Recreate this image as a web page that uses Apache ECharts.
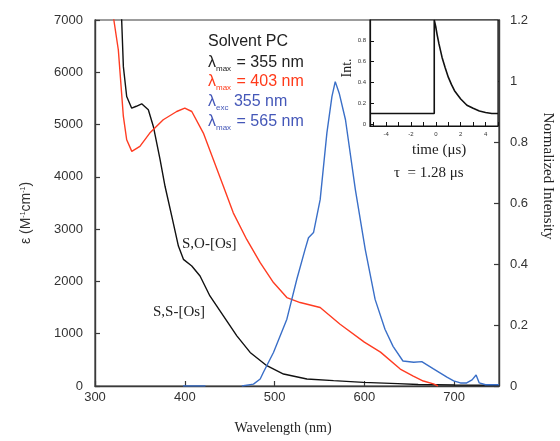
<!DOCTYPE html>
<html><head><meta charset="utf-8">
<script src="https://cdn.jsdelivr.net/npm/echarts@6/dist/echarts.min.js"></script>
<style>html,body{margin:0;padding:0;background:#fff}#c{width:560px;height:441px}</style>
</head><body><div id="c"></div>
<script>
// S,S-[Os] absorption (black): wavelength (nm), epsilon
const blackWl  = [329,329.7,331.6,335.3,340.9,346,352,359.4,365,372.5,378,385.5,392.9,398.5,407.8,417,428,443,458,472.8,491.4,510,536,565.7,599,637,660,700,750];
const blackEps = [7400,7000,6108,5536,5314,5350,5397,5282,4964,4329,3820,3248,2676,2422,2294,2103,1722,1341,959,642,388,229,134,102,70,45,30,20,15];
// S,O-[Os] absorption (red)
const redWl  = [317,321,326,331.6,335.3,341,350,361,376,391,400,407.8,420.7,431.9,443,454,469,484,498.8,513.7,528.5,550.8,573,600,618,640,654.5,665.7,677,682];
const redEps = [7500,7000,6426,5155,4710,4487,4583,4837,5092,5250,5314,5250,4837,4329,3820,3312,2803,2359,1978,1692,1596,1501,1182,839,648,324,191,95,40,0];
// Normalized emission (blue); null = gap in the trace
const blueWl  = [398,423,424,463.5,476.5,484,487.6,498.8,513.7,524.8,534,537.8,543.4,550.8,558.3,563.9,567.6,572,579,590,601,612,623,632,643,655,664,677,692,699.5,707,714,720,724.5,728,735,750];
const blueInt = [0,0,null,0,0.006,0.023,0.045,0.11,0.219,0.35,0.448,0.486,0.503,0.611,0.83,0.949,0.998,0.96,0.873,0.644,0.448,0.284,0.186,0.13,0.082,0.078,0.08,0.056,0.029,0.017,0.01,0.01,0.02,0.036,0.01,0.004,0.004];
// Inset decay: time (us), intensity
const decayT   = [-5.3,-4,-3,-2,-1,-0.13,-0.13,0,0.1,0.25,0.5,0.75,1,1.25,1.5,2,2.5,3,3.5,4,4.5,5];
const decayInt = [0.1,0.1,0.1,0.1,0.1,0.1,1.0,0.93,0.86,0.77,0.64,0.54,0.45,0.38,0.32,0.24,0.18,0.15,0.125,0.11,0.1,0.1];

const insetXLabels = [-4,-2,0,2,4];
const insetXTicks = [-5,-4,-3,-2,-1,0,1,2,3,4,5];
const insetYLabels = [0,0.2,0.4,0.6,0.8];

function pairs(xs, ys){ return xs.map((x,i)=>[x, ys[i] === null ? '-' : ys[i]]); }

const SANS = '"Liberation Sans", Arial, Helvetica, sans-serif';
const SERIF = '"Liberation Serif", "Times New Roman", serif';
const AX = '#3a3a3a';

function legendLine(top, sym, rest, color){
  return {type:'text', left:208, top:top, z:20, style:{
    text:'{l|λ}{s|'+sym+'}{l|'+rest+'}',
    rich:{
      l:{font:'16px '+SANS, fill:color, lineHeight:20, verticalAlign:'middle'},
      s:{font:'8px '+SANS, fill:color, lineHeight:8, verticalAlign:'bottom', padding:[0,1,0,0]}
    }}};
}

const chart = echarts.init(document.getElementById('c'), null, {renderer:'canvas'});
chart.setOption({
  animation:false,
  backgroundColor:'#fff',
  grid:[
    {left:95, top:20, width:404, height:366, show:true, borderColor:AX, borderWidth:1.2, backgroundColor:'transparent'},
    {left:370, top:20, width:128, height:106, show:true, borderColor:'#111', borderWidth:1.2, backgroundColor:'#fff', z:10}
  ],
  xAxis:[
    {gridIndex:0, type:'value', min:300, max:750, interval:100,
     axisLine:{onZero:false, lineStyle:{color:AX, width:1.4}}, splitLine:{show:false},
     axisTick:{inside:true, length:5, lineStyle:{color:AX, width:1.2}},
     axisLabel:{color:'#333', fontFamily:SANS, fontSize:13, margin:5, showMaxLabel:false, formatter:v=>String(v)}},
    {gridIndex:1, type:'value', min:-5.3, max:5, z:11,
     axisLine:{onZero:false, lineStyle:{color:'#111', width:1.2}}, splitLine:{show:false},
     axisTick:{inside:true, length:4, lineStyle:{color:'#111'}, customValues:insetXTicks},
     axisLabel:{color:'#333', fontFamily:SANS, fontSize:6, margin:5, customValues:insetXLabels}}
  ],
  yAxis:[
    {gridIndex:0, type:'value', min:0, max:7000, interval:1000, position:'left',
     axisLine:{show:true, onZero:false, lineStyle:{color:AX, width:1.4}}, splitLine:{show:false},
     axisTick:{show:true, inside:true, length:5, lineStyle:{color:AX, width:1.2}},
     axisLabel:{color:'#333', fontFamily:SANS, fontSize:13, margin:12, formatter:v=>String(v)}},
    {gridIndex:0, type:'value', min:0, max:1.2, interval:0.2, position:'right',
     axisLine:{show:true, onZero:false, lineStyle:{color:AX, width:1.4}}, splitLine:{show:false},
     axisTick:{show:true, inside:true, length:5, lineStyle:{color:AX, width:1.2}},
     axisLabel:{color:'#333', fontFamily:SANS, fontSize:13, margin:11}},
    {gridIndex:1, type:'value', min:-0.02, max:1.0, z:11,
     axisLine:{show:true, onZero:false, lineStyle:{color:'#111', width:1.2}}, splitLine:{show:false},
     axisTick:{show:true, inside:true, length:4, lineStyle:{color:'#111'}, customValues:insetYLabels},
     axisLabel:{color:'#333', fontFamily:SANS, fontSize:6, margin:4, customValues:insetYLabels}}
  ],
  series:[
    {name:'S,S-[Os]', type:'line', xAxisIndex:0, yAxisIndex:0, data:pairs(blackWl, blackEps),
     showSymbol:false, lineStyle:{color:'#111', width:1.4}, clip:true, z:3},
    {name:'S,O-[Os]', type:'line', xAxisIndex:0, yAxisIndex:0, data:pairs(redWl, redEps),
     showSymbol:false, lineStyle:{color:'#ff3c22', width:1.4}, clip:true, z:3},
    {name:'Emission', type:'line', xAxisIndex:0, yAxisIndex:1, data:pairs(blueWl, blueInt),
     showSymbol:false, connectNulls:false, lineStyle:{color:'#3a6fc8', width:1.4}, clip:true, z:3},
    {name:'Decay', type:'line', xAxisIndex:1, yAxisIndex:2, data:pairs(decayT, decayInt),
     showSymbol:false, lineStyle:{color:'#111', width:1.6}, clip:true, z:12}
  ],
  graphic:[
    {type:'text', left:208, top:34, z:20, style:{text:'Solvent PC', font:'16px '+SANS, fill:'#222'}},
    legendLine(55, 'max', ' = 355 nm', '#222'),
    legendLine(74, 'max', ' = 403 nm', '#ff3a1a'),
    legendLine(94, 'exc', ' 355 nm', '#4457b8'),
    legendLine(114, 'max', ' = 565 nm', '#4457b8'),
    {type:'text', left:182, top:237, z:20, style:{text:'S,O-[Os]', font:'15px '+SERIF, fill:'#222'}},
    {type:'text', left:153, top:305, z:20, style:{text:'S,S-[Os]', font:'15px '+SERIF, fill:'#222'}},
    {type:'text', left:412, top:143, z:20, style:{text:'time (μs)', font:'15px '+SERIF, fill:'#222'}},
    {type:'text', left:394, top:166, z:20, style:{text:'τ  = 1.28 μs', font:'15px '+SERIF, fill:'#222'}},
    {type:'text', x:347, y:68, rotation:Math.PI/2, z:20, style:{text:'Int.', font:'14px '+SERIF, fill:'#222', align:'center', verticalAlign:'middle'}},
    {type:'text', x:283, y:428, z:20, style:{text:'Wavelength (nm)', font:'14px '+SERIF, fill:'#222', align:'center', verticalAlign:'middle'}},
    {type:'text', x:548, y:176, rotation:-Math.PI/2, z:20, style:{text:'Normalized Intensity', font:'15px '+SERIF, fill:'#222', align:'center', verticalAlign:'middle'}},
    {type:'text', x:26, y:213, rotation:Math.PI/2, z:20, style:{text:'{a|ε (M}{b|-1}{a|cm}{b|-1}{a|)}', rich:{a:{font:'14px '+SANS, fill:'#333'}, b:{font:'7px '+SANS, fill:'#333', padding:[0,0,6,0]}}, align:'center', verticalAlign:'middle'}}
  ]
});
</script></body></html>
